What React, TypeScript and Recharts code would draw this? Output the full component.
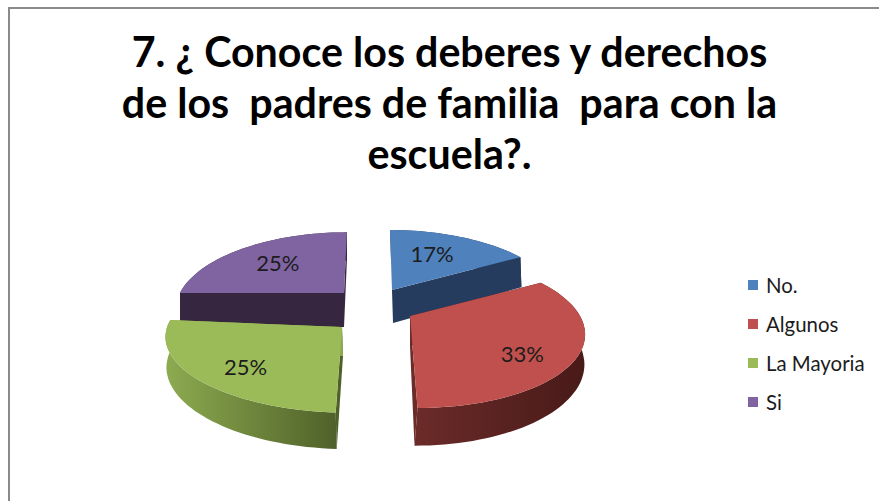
import { Legend, Pie, PieChart } from "recharts";

const categories = ["No.", "Algunos", "La Mayoria", "Si"];
const counts = [2, 4, 3, 3];
const topColors = ["#4f81bd", "#c0504d", "#9bbb59", "#8064a2"];
const titleLines = [
  "7. ¿ Conoce los deberes y derechos",
  "de los  padres de familia  para con la",
  "escuela?.",
];

// Si is painted first so the green slice can overlap its wall
const paintOrder = [3, 0, 1, 2];
const tableData = paintOrder.map((i) => ({
  name: categories[i],
  value: counts[i],
  fill: topColors[i],
}));

const FONT = "Lato, sans-serif";
const PERSPECTIVE = 0.205;

// How each exploded slice sits in the faked 3D view
const sliceViews: Record<string, any> = {
  "No.": { dx: 17, dy: -20, sx: 0.97, sy: 0.425, lean: 2.4, skew: 0, depth: 33, depthDx: 1, depthLean: 0, wall: ["#263c5e", "#263c5e"], label: [-10, 2] },
  Algunos: { dx: 35, dy: 6, sx: 1.0, sy: 0.43, lean: 6, skew: 0, depth: 30, depthDx: 0, depthLean: -3, wall: ["#6b2b29", "#481a18"], label: [-1, 10] },
  "La Mayoria": { dx: -33, dy: 17, sx: 1.01, sy: 0.4, lean: -5, skew: 7, depth: 29, depthDx: 1, depthLean: 0, wall: ["#8dab50", "#4f6129"], label: [1, 6] },
  Si: { dx: -31, dy: -17, sx: 0.965, sy: 0.43, lean: -3.5, skew: 0, depth: 34, depthDx: 0, depthLean: 0, wall: ["#36263f", "#36263f"], label: [6, 2] },
};

const project = (view: any, cx: number, cy: number, r: number, angle: number, f = 1, lower = false) => {
  const t = ((90 - angle) * Math.PI) / 180;
  const u = Math.sin(t) * f;
  const v = -Math.cos(t) * f;
  const w = 1 / (1 - PERSPECTIVE * v);
  return {
    x: cx + view.dx + r * view.sx * u * w + view.lean * v * w + (lower ? view.depthDx + view.depthLean * Math.max(v, 0) : 0),
    y: cy + view.dy + r * view.sy * v * w + view.skew * u + (lower ? view.depth * w : 0),
  };
};

const toPath = (pts: { x: number; y: number }[]) =>
  "M" + pts.map((p) => `${p.x.toFixed(1)},${p.y.toFixed(1)}`).join("L") + "Z";

const Slice3D = (props: any) => {
  const { cx, cy, outerRadius: r, startAngle, endAngle, fill, name } = props;
  const view = sliceViews[name];
  const steps = Math.ceil(Math.abs(endAngle - startAngle) / 2);
  const angles = Array.from({ length: steps + 1 }, (_, i) => startAngle + ((endAngle - startAngle) * i) / steps);
  const top = angles.map((a) => project(view, cx, cy, r, a));
  const low = angles.map((a) => project(view, cx, cy, r, a, 1, true));
  const apexTop = project(view, cx, cy, r, 0, 0);
  const apexLow = project(view, cx, cy, r, 0, 0, true);
  const id = `wall-${paintOrder.indexOf(categories.indexOf(name))}`;
  return (
    <g>
      <defs>
        <linearGradient id={id} x1="0" y1="0" x2="1" y2="0">
          <stop offset="0%" stopColor={view.wall[0]} />
          <stop offset="100%" stopColor={view.wall[1]} />
        </linearGradient>
      </defs>
      <path d={toPath([apexTop, top[0], low[0], apexLow])} fill={view.wall[1]} />
      <path d={toPath([apexTop, top[steps], low[steps], apexLow])} fill={view.wall[0]} />
      <path d={toPath([...top, ...low.slice().reverse()])} fill={`url(#${id})`} />
      <path d={toPath([apexTop, ...top])} fill={fill} />
    </g>
  );
};

const renderPercent = (props: any) => {
  const { cx, cy, outerRadius, midAngle, percent, name } = props;
  const view = sliceViews[name];
  const p = project(view, cx, cy, outerRadius, midAngle, 0.7);
  return (
    <text
      x={p.x + view.label[0]}
      y={p.y + view.label[1]}
      textAnchor="middle"
      dominantBaseline="central"
      fontFamily={FONT}
      fontSize={22}
      fill="#1c1c1c"
    >
      {`${Math.round(percent * 100)}%`}
    </text>
  );
};

const renderLegend = ({ payload }: any) => {
  const items = [...(payload ?? [])].sort(
    (a, b) => categories.indexOf(a.value) - categories.indexOf(b.value),
  );
  return (
    <div>
      {items.map((item) => (
        <div key={item.value} style={{ display: "flex", alignItems: "center", height: 39 }}>
          <span style={{ width: 10, height: 10, marginRight: 8, background: item.color }} />
          <span style={{ fontFamily: FONT, fontSize: 20.4, color: "#1c1c1c", whiteSpace: "nowrap" }}>{item.value}</span>
        </div>
      ))}
    </div>
  );
};

export default function App() {
  return (
    <div
      style={{
        position: "absolute",
        left: 0,
        top: 0,
        width: 879,
        height: 501,
        overflow: "hidden",
        background: "#fff",
      }}
    >
      <PieChart width={879} height={501} margin={{ top: 0, right: 0, bottom: 0, left: 0 }}>
        <rect x={9} y={8} width={900} height={520} fill="none" stroke="#8a8a8a" strokeWidth={2} />
        {titleLines.map((line, i) => (
          <text
            key={line}
            x={449.5}
            y={67 + i * 51}
            textAnchor="middle"
            fontFamily={FONT}
            fontWeight={700}
            fontSize={41.2}
            fill="#000"
            style={{ whiteSpace: "pre" }}
          >
            {line}
          </text>
        ))}
        <Pie
          data={tableData}
          dataKey="value"
          nameKey="name"
          cx={375}
          cy={310}
          outerRadius={170}
          startAngle={180}
          endAngle={-180}
          stroke="none"
          shape={Slice3D}
          label={renderPercent}
          labelLine={false}
          isAnimationActive={false}
        />
        <Legend
          content={renderLegend}
          wrapperStyle={{ position: "absolute", left: 748, top: 265, width: 131 }}
        />
      </PieChart>
    </div>
  );
}
